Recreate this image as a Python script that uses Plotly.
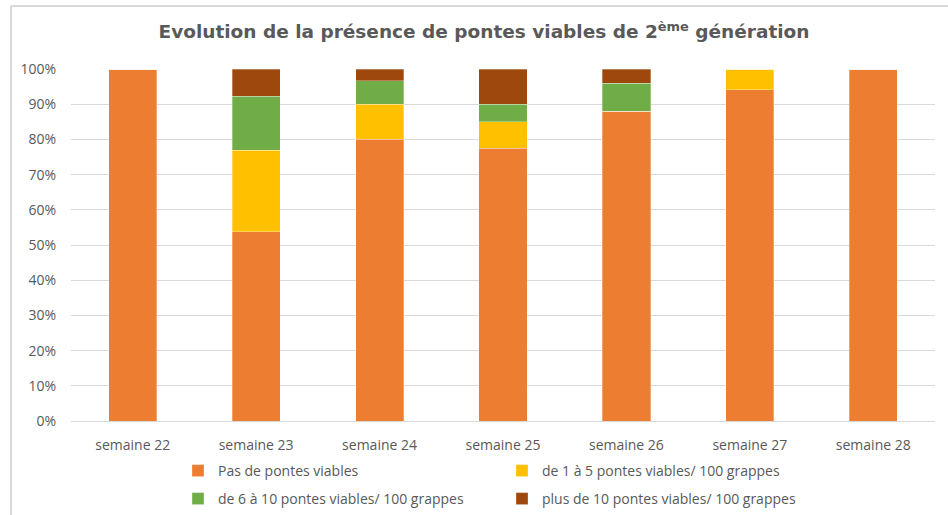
import plotly.graph_objects as go

categories = ["semaine 22", "semaine 23", "semaine 24", "semaine 25", "semaine 26", "semaine 27", "semaine 28"]
series_names = [
    "Pas de pontes viables",
    "de 1 à 5 pontes viables/ 100 grappes",
    "de 6 à 10 pontes viables/ 100 grappes",
    "plus de 10 pontes viables/ 100 grappes",
]
pas_de_pontes = [1.0, 0.538, 0.800, 0.775, 0.880, 0.941, 1.0]
de_1_a_5 = [0.0, 0.231, 0.100, 0.075, 0.0, 0.059, 0.0]
de_6_a_10 = [0.0, 0.154, 0.067, 0.050, 0.080, 0.0, 0.0]
plus_de_10 = [0.0, 0.077, 0.033, 0.100, 0.040, 0.0, 0.0]
colors = ["#ED7D31", "#FFC000", "#70AD47", "#9E480E"]
legend_ids = ["legend", "legend", "legend2", "legend2"]

W, H = 948, 515
ml, mr, mt, mb = 71, 13, 69, 94
pw = W - ml - mr
ph = H - mt - mb

FONT = "Open Sans, Lato, sans-serif"

fig = go.Figure()
for name, vals, col, lg in zip(series_names, [pas_de_pontes, de_1_a_5, de_6_a_10, plus_de_10], colors, legend_ids):
    fig.add_trace(go.Bar(
        x=categories, y=vals, name=name, legend=lg,
        marker=dict(color=col, line=dict(width=0.6, color="rgba(255,255,255,0.5)")),
    ))

def legend_cfg(top_px):
    return dict(orientation="h", x=(178 - ml) / pw, xanchor="left",
                y=-(top_px - (H - mb)) / ph, yanchor="top",
                entrywidth=279, entrywidthmode="pixels",
                font=dict(family=FONT, size=14, color="#595959"), traceorder="normal",
                bgcolor="rgba(0,0,0,0)")

fig.update_layout(
    width=W, height=H,
    barmode="stack", bargap=0.61,
    plot_bgcolor="white", paper_bgcolor="white",
    margin=dict(l=ml, r=mr, t=mt, b=mb, autoexpand=False),
    font=dict(family=FONT, color="#595959", size=14),
    title=dict(
        text="<b>Evolution de la présence de pontes viables de 2<sup>ème</sup> génération</b>",
        x=(484 - ml) / pw, xref="paper", xanchor="center", y=1 - 32 / H, yanchor="middle",
        font=dict(family="DejaVu Sans, Arial, sans-serif", size=18.5, color="#595959"),
    ),
    xaxis=dict(showgrid=False, showline=True, linecolor="#d9d9d9", linewidth=1,
               ticks="", ticklabelstandoff=11, tickfont=dict(family=FONT, size=14, color="#595959")),
    yaxis=dict(range=[0, 1], dtick=0.1, tickformat=".0%", showgrid=True,
               gridcolor="#d9d9d9", gridwidth=1, zeroline=False,
               ticks="", ticklabelstandoff=14, tickfont=dict(family=FONT, size=14, color="#595959")),
    legend=legend_cfg(455),
    legend2=legend_cfg(483),
    showlegend=True,
)
# chart-area frame (top and left edges)
x0 = (11 - ml) / pw
y0 = (H - 6 - mb) / ph
fig.add_shape(type="line", xref="paper", yref="paper", x0=x0, x1=(W + 5 - ml) / pw, y0=y0, y1=y0,
              line=dict(color="#d9d9d9", width=2))
fig.add_shape(type="line", xref="paper", yref="paper", x0=x0, x1=x0, y0=y0, y1=-(mb + 5) / ph,
              line=dict(color="#d9d9d9", width=2))

fig.write_html("out.html", config={"displayModeBar": False},
               post_script="document.body.style.margin='0';")
